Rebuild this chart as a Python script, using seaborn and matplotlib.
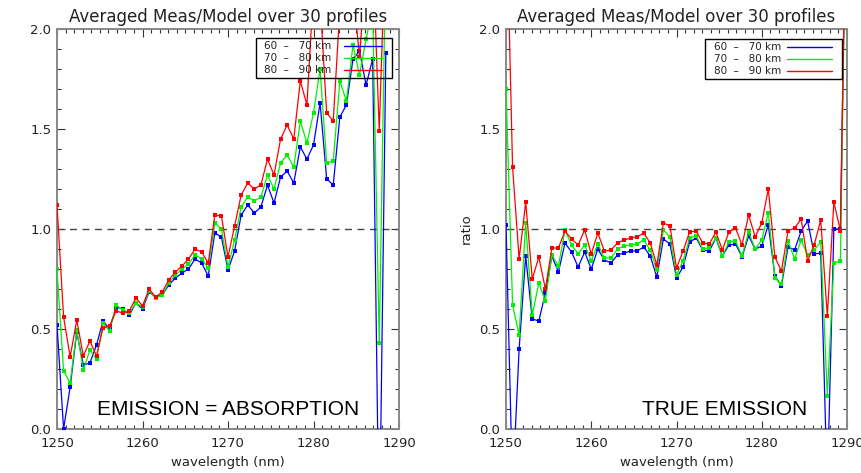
import numpy as np
import pandas as pd
import matplotlib
matplotlib.use("Agg")
import matplotlib.pyplot as plt
from matplotlib.ticker import MultipleLocator, FormatStrFormatter
from matplotlib.patches import Rectangle
from matplotlib.lines import Line2D
import seaborn as sns

sns.set_theme(style="white")
plt.rcParams['font.family'] = ['DejaVu Sans']

# wavelength grid (nm)
wavelength = [1250.00, 1250.77, 1251.54, 1252.31, 1253.08, 1253.85, 1254.62, 1255.38,
              1256.15, 1256.92, 1257.69, 1258.46, 1259.23, 1260.00, 1260.77, 1261.54,
              1262.31, 1263.08, 1263.85, 1264.62, 1265.38, 1266.15, 1266.92, 1267.69,
              1268.46, 1269.23, 1270.00, 1270.77, 1271.54, 1272.31, 1273.08, 1273.85,
              1274.62, 1275.38, 1276.15, 1276.92, 1277.69, 1278.46, 1279.23, 1280.00,
              1280.77, 1281.54, 1282.31, 1283.08, 1283.85, 1284.62, 1285.38, 1286.15,
              1286.92, 1287.69, 1288.46, 1289.23, 1290.00]

bands = ["60  \u2013   70 km", "70  \u2013   80 km", "80  \u2013   90 km"]
band_colors = ["#0000ff", "#00f000", "#ff0000"]

# EMISSION = ABSORPTION
left_60_70 = [0.52, 0.00, 0.21, 0.485, 0.32, 0.33, 0.42, 0.54, 0.50, 0.61, 0.60, 0.57, 0.63,
              0.60, 0.685, 0.66, 0.67, 0.72, 0.755, 0.78, 0.80, 0.85, 0.83, 0.765, 0.98, 0.96,
              0.795, 0.89, 1.07, 1.12, 1.08, 1.11, 1.22, 1.13, 1.26, 1.29, 1.23, 1.41, 1.35,
              1.42, 1.63, 1.25, 1.22, 1.56, 1.62, 1.85, 1.89, 1.72, 1.85, -0.60, 1.88]
left_70_80 = [0.80, 0.29, 0.23, 0.495, 0.295, 0.395, 0.35, 0.53, 0.49, 0.62, 0.595, 0.58, 0.63,
              0.61, 0.69, 0.655, 0.67, 0.73, 0.77, 0.80, 0.825, 0.87, 0.85, 0.805, 1.03, 1.00,
              0.81, 0.945, 1.11, 1.16, 1.14, 1.16, 1.27, 1.20, 1.33, 1.37, 1.31, 1.54, 1.43,
              1.58, 1.80, 1.33, 1.34, 1.74, 1.64, 1.92, 1.77, 1.95, 2.10, 0.43, 2.40]
left_80_90 = [1.12, 0.56, 0.36, 0.545, 0.365, 0.44, 0.365, 0.505, 0.515, 0.59, 0.58, 0.59, 0.655,
              0.615, 0.70, 0.66, 0.685, 0.745, 0.785, 0.815, 0.85, 0.90, 0.885, 0.83, 1.07, 1.065,
              0.86, 1.015, 1.17, 1.23, 1.20, 1.22, 1.35, 1.27, 1.45, 1.52, 1.45, 1.74, 1.62,
              2.20, 2.15, 1.58, 1.54, 2.10, 2.30, 2.20, 1.86, 2.30, 2.40, 1.49, 2.50]

# TRUE EMISSION
right_60_70 = [1.02, -0.30, 0.40, 0.865, 0.55, 0.54, 0.68, 0.865, 0.785, 0.93, 0.885, 0.81, 0.885,
               0.80, 0.90, 0.845, 0.83, 0.87, 0.88, 0.89, 0.89, 0.91, 0.865, 0.76, 0.95, 0.925,
               0.755, 0.81, 0.935, 0.955, 0.895, 0.89, 0.955, 0.865, 0.92, 0.925, 0.86, 0.965,
               0.90, 0.915, 1.02, 0.765, 0.715, 0.91, 0.895, 0.99, 1.04, 0.875, 0.88, -0.30,
               1.00, 1.00, 3.00]
right_70_80 = [1.70, 0.62, 0.47, 1.03, 0.57, 0.73, 0.64, 0.87, 0.815, 0.995, 0.92, 0.875, 0.92,
               0.84, 0.925, 0.855, 0.855, 0.90, 0.915, 0.92, 0.925, 0.945, 0.895, 0.795, 0.995,
               0.96, 0.77, 0.84, 0.955, 0.965, 0.90, 0.905, 0.955, 0.865, 0.935, 0.94, 0.865,
               0.985, 0.90, 0.945, 1.08, 0.755, 0.725, 0.94, 0.85, 0.945, 0.87, 0.895, 0.935,
               0.165, 0.83, 0.84, 3.00]
right_80_90 = [2.70, 1.31, 0.85, 1.135, 0.75, 0.86, 0.70, 0.905, 0.905, 0.99, 0.95, 0.92, 0.995,
               0.875, 0.98, 0.89, 0.895, 0.93, 0.945, 0.955, 0.96, 0.98, 0.93, 0.82, 1.03, 1.015,
               0.805, 0.89, 0.985, 0.99, 0.93, 0.925, 0.985, 0.895, 0.985, 1.005, 0.92, 1.07,
               0.96, 1.03, 1.20, 0.86, 0.79, 0.99, 1.005, 1.05, 0.84, 0.92, 1.045, 0.565,
               1.135, 0.99, 3.00]


def long_table(series):
    frames = []
    for band, vals in zip(bands, series):
        frames.append(pd.DataFrame({"wavelength": wavelength[:len(vals)],
                                    "ratio": vals, "band": band}))
    return pd.concat(frames, ignore_index=True)


def style_panel(ax, note, note_x, legend_box, text_x, line_x, rows_y):
    ax.axhline(1.0, color="#444444", lw=1.0, dashes=(5, 4), zorder=1)
    ax.set_xlim(1250, 1290)
    ax.set_ylim(0, 2)
    ax.xaxis.set_major_locator(MultipleLocator(10))
    ax.xaxis.set_minor_locator(MultipleLocator(1))
    ax.yaxis.set_major_locator(MultipleLocator(0.5))
    ax.yaxis.set_minor_locator(MultipleLocator(0.1))
    ax.yaxis.set_major_formatter(FormatStrFormatter("%.1f"))
    ax.tick_params(which="both", direction="in", bottom=True, left=True, top=True,
                   right=True, colors="#333333", labelcolor="#222222", labelsize=9.5)
    ax.tick_params(which="major", length=5.5, width=0.8)
    ax.tick_params(which="minor", length=3, width=0.8)
    ax.tick_params(axis="x", pad=6)
    ax.tick_params(axis="y", pad=4)
    for sp in ax.spines.values():
        sp.set_color("#888888")
        sp.set_linewidth(1.4)
    ax.set_xlabel("wavelength (nm)", fontsize=9.5, color="#222222", labelpad=4)
    ax.set_ylabel("")
    ax.set_title("Averaged Meas/Model over 30 profiles", fontsize=12,
                 color="#222222", pad=5)
    ax.text(note_x, 0.035, note, transform=ax.transAxes, ha="center",
            va="baseline", fontsize=15, family=["Liberation Sans"], color="black")

    # legend in IDL style: label first, then the line sample
    x0, y0, x1, y1 = legend_box
    ax.add_patch(Rectangle((x0, y0), x1 - x0, y1 - y0, transform=ax.transAxes,
                           fill=False, edgecolor="black", lw=1.0, zorder=6))
    for band, col, ry in zip(bands, band_colors, rows_y):
        ax.text(text_x, ry, band, transform=ax.transAxes, ha="left", va="center",
                fontsize=7.5, color="#222222", zorder=6)
        ax.add_line(Line2D(line_x, [ry, ry], transform=ax.transAxes, color=col,
                           lw=1.0, zorder=6))


fig = plt.figure(figsize=(8.62, 4.73), dpi=100)
ax_left = fig.add_axes([57 / 862, 1 - 429 / 473, 342 / 862, 400 / 473])
ax_right = fig.add_axes([506 / 862, 1 - 429 / 473, 341 / 862, 400 / 473])

panels = [
    (ax_left, [left_60_70, left_70_80, left_80_90], "EMISSION = ABSORPTION", 0.5,
     (0.582, 0.8775, 0.98, 0.9775), 0.605, [0.839, 0.951], [0.958, 0.928, 0.898]),
    (ax_right, [right_60_70, right_70_80, right_80_90], "TRUE EMISSION", 0.64,
     (0.584, 0.875, 0.985, 0.975), 0.61, [0.823, 0.957], [0.955, 0.925, 0.895]),
]

for ax, series, note, note_x, box, tx, lx, rows in panels:
    df = long_table(series)
    sns.lineplot(data=df, x="wavelength", y="ratio", hue="band", palette=band_colors,
                 estimator=None, sort=False, marker="s", markersize=2.2,
                 markeredgewidth=0, linewidth=0.9, legend=False, ax=ax, zorder=3)
    style_panel(ax, note, note_x, box, tx, lx, rows)

ax_right.set_ylabel("ratio", fontsize=9.5, color="#222222", labelpad=5)

fig.savefig("out.png", dpi=100)
